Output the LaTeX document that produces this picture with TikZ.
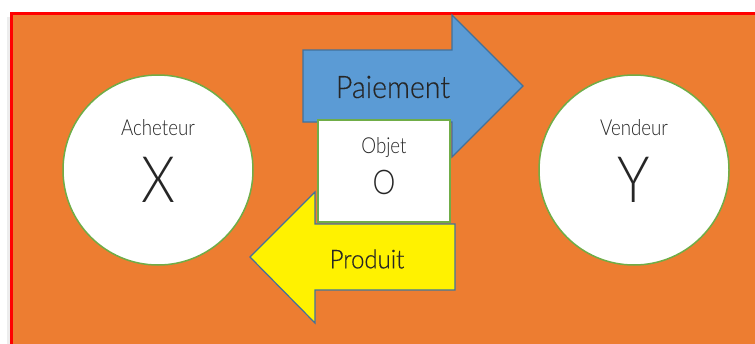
\documentclass[tikz,border=0pt]{standalone}
\usepackage{fontspec}
\setmainfont{Lato}
\IfFontExistsTF{Lato Light}
  {\newfontfamily\fin[FakeStretch=0.85]{Lato Light}
   \newfontfamily\moyen[FakeStretch=0.92, FakeBold=0.4]{Lato Light}}
  {\newfontfamily\fin[FakeStretch=0.85]{Lato}
   \newfontfamily\moyen[FakeStretch=0.92]{Lato}}
\usepackage{xcolor}
\definecolor{ed7d31}{HTML}{ED7D31}
\definecolor{5b9bd5}{HTML}{5B9BD5}
\definecolor{41719c}{HTML}{41719C}
\definecolor{70ad47}{HTML}{70AD47}
\definecolor{texte}{HTML}{262626}
\usepackage{tikz}

\begin{document}
\begin{tikzpicture}[x=1pt, y=-1pt]
                        \useasboundingbox (0, 0) rectangle (755, 343);
                        \clip (0, 0) rectangle (755, 343);

                        \fill[black!7] (7, 17) rectangle (11, 370);
                        \fill[ed7d31] (12, 14) rectangle (780, 370);
                        \draw[red, line width=3.2pt] (780, 13.5) -- (11.5, 13.5) -- (11.5, 370);

                        \node (X) at (158, 170) [circle, draw=70ad47, fill=white, line width=1.5pt, minimum size=190pt] {};
                        \node (Y) at (634, 170) [circle, draw=70ad47, fill=white, line width=1.5pt, minimum size=190pt] {};

                        \node (acheteur) at (158, 128) [texte] {\fin\fontsize{22}{24}\selectfont Acheteur};
                        \node (lettreX) at (158, 180) [texte] {\fin\fontsize{64}{70}\selectfont X};
                        \node (vendeur) at (634, 128) [texte] {\fin\fontsize{22}{24}\selectfont Vendeur};
                        \node (lettreY) at (634, 180) [texte] {\fin\fontsize{64}{70}\selectfont Y};

                        \draw[draw=41719c, fill=5b9bd5, line width=1.2pt, line join=miter]
                            (303, 50) -- (452, 50) -- (452, 15) -- (523, 86) -- (452, 157) -- (452, 122) -- (303, 122) -- cycle;
                        \node (paiement) at (393, 87) [texte] {\moyen\fontsize{31}{34}\selectfont Paiement};

                        \draw[draw=41719c, fill=yellow, line width=1.2pt, line join=miter]
                            (455, 224) -- (315, 224) -- (315, 192) -- (250, 257) -- (315, 323) -- (315, 290) -- (455, 290) -- cycle;
                        \node (produit) at (367, 259) [texte] {\moyen\fontsize{26}{28}\selectfont Produit};

                        \node (objet) at (384, 171) [rectangle, draw=70ad47, fill=white, line width=1.2pt, minimum width=132pt, minimum height=102pt] {};
                        \node (motobjet) at (384, 148) [texte] {\fin\fontsize{22}{24}\selectfont Objet};
                        \node (lettreO) at (384, 182) [texte] {\fin\fontsize{34}{38}\selectfont O};
                    \end{tikzpicture}
\end{document}
